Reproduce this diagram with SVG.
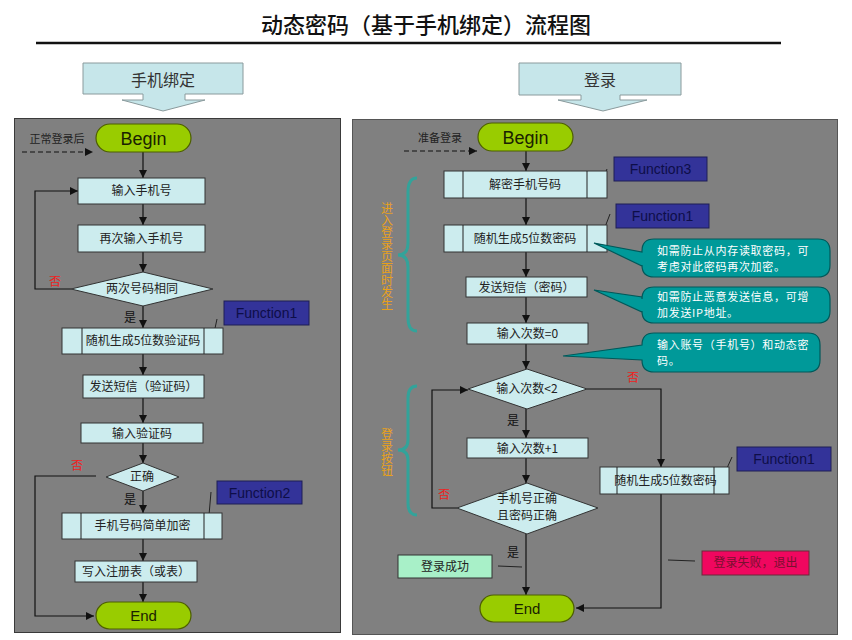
<svg xmlns="http://www.w3.org/2000/svg" width="852" height="640" viewBox="0 0 852 640">
<defs>
<marker id="ah" viewBox="0 0 8 8" refX="8" refY="4" markerWidth="8" markerHeight="8" markerUnits="userSpaceOnUse" orient="auto">
<path d="M0,0 L8,4 L0,8 z" fill="#111"/>
</marker>
<style>
.cjk{font-family:"Noto Sans CJK SC","Liberation Sans",sans-serif}
.lat{font-family:"Liberation Sans","Noto Sans",Arial,sans-serif}
.box{fill:#ccecee;stroke:#333;stroke-width:1}
.t{font-size:12px;fill:#222;text-anchor:middle}
.term{fill:#99cc00;stroke:#4d5e00;stroke-width:1.2}
.termt{font-size:18px;fill:#1a2200;text-anchor:middle}
.fn{fill:#333399;stroke:#1e1e55;stroke-width:1}
.fnt{font-size:14px;fill:#0e0e48;text-anchor:middle}
.dia{fill:#ccecee;stroke:#333;stroke-width:1}
.con{fill:none;stroke:#111;stroke-width:1.2}
.arr{marker-end:url(#ah)}
.dash{stroke-dasharray:5,3}
.thin{fill:none;stroke:#222;stroke-width:1}
.no{font-size:12px;fill:#ee2222}
.yes{font-size:12px;fill:#111}
.call{fill:#009999;stroke:#00595a;stroke-width:1.2}
.callt{font-size:11px;letter-spacing:0.7px;fill:#ffffff}
.brace{fill:none;stroke:#33a39a;stroke-width:3}
.bt{font-size:12px;fill:#e8a01c;text-anchor:middle;writing-mode:vertical-rl}
.hdr{fill:#c6e6ea;stroke:#8a9a9c;stroke-width:1}
.hdrt{font-size:16px;fill:#333;text-anchor:middle}
.note{font-size:11px;fill:#222}
</style>
</defs>
<rect width="852" height="640" fill="#ffffff"/>

<g id="title">
<text x="426" y="33" class="cjk" font-size="22" font-weight="500" fill="#111" text-anchor="middle">动态密码（基于手机绑定）流程图</text>
<line x1="36" y1="43" x2="781" y2="43" stroke="#111" stroke-width="2.5"/>
</g>

<g id="panels">
<rect x="14.5" y="118.5" width="326" height="514" fill="#808080" stroke="#3a3a3a" stroke-width="1"/>
<rect x="352.5" y="119.5" width="485" height="515" fill="#808080" stroke="#555" stroke-width="1"/>
</g>

<g id="header-bind">
<path class="hdr" d="M83,63 H243 V94 H185 V100 H205 L163,111 L122,100 H143 V94 H83 Z"/>
<text x="163" y="86" class="cjk hdrt">手机绑定</text>
</g>
<g id="header-login">
<path class="hdr" d="M519,63 H681 V95 H620 V100 H647 L603,111 L558,100 H581 V95 H519 Z"/>
<text x="600" y="86" class="cjk hdrt">登录</text>
</g>

<g id="connectors">
<line class="con arr dash" x1="22" y1="152" x2="93" y2="152"/>
<line class="con arr" x1="143" y1="152" x2="143" y2="178"/>
<line class="con arr" x1="143" y1="204" x2="143" y2="225"/>
<line class="con arr" x1="143" y1="252" x2="143" y2="272"/>
<polyline class="con arr" points="71,289 35,289 35,191 78,191"/>
<line class="con arr" x1="143" y1="306" x2="143" y2="328"/>
<line class="con arr" x1="143" y1="354" x2="143" y2="375"/>
<line class="con arr" x1="143" y1="398" x2="143" y2="423"/>
<line class="con arr" x1="143" y1="443" x2="143" y2="463"/>
<polyline class="con arr" points="96,476 35,476 35,616 94,616"/>
<line class="con arr" x1="143" y1="491" x2="143" y2="513"/>
<line class="con arr" x1="143" y1="539" x2="143" y2="561"/>
<line class="con arr" x1="143" y1="582" x2="143" y2="602"/>
<line class="thin" x1="211" y1="347" x2="217" y2="319"/>
<line class="thin" x1="208" y1="527" x2="211" y2="492"/>
<line class="con arr dash" x1="404" y1="151" x2="477" y2="151"/>
<line class="con arr" x1="526" y1="151" x2="526" y2="171"/>
<line class="con arr" x1="526" y1="198" x2="526" y2="225"/>
<line class="con arr" x1="526" y1="252" x2="526" y2="277"/>
<line class="con arr" x1="526" y1="297" x2="526" y2="323"/>
<line class="con arr" x1="526" y1="344" x2="526" y2="369"/>
<line class="con arr" x1="526" y1="409" x2="526" y2="438"/>
<line class="con arr" x1="526" y1="458" x2="526" y2="483"/>
<line class="con arr" x1="526" y1="534" x2="526" y2="595"/>
<polyline class="con arr" points="587,389 661,389 661,467"/>
<polyline class="con arr" points="457,508 432,508 432,390 468,390"/>
<polyline class="con arr" points="661,494 661,608 576,608"/>
<line class="thin" x1="498" y1="566" x2="522" y2="567"/>
<line class="thin" x1="668" y1="560" x2="695" y2="561"/>
<line class="thin" x1="598" y1="191" x2="607" y2="169"/>
<line class="thin" x1="602" y1="235" x2="610" y2="214"/>
<line class="thin" x1="723" y1="477" x2="732" y2="457"/>
</g>

<g id="l-pre"><text x="57" y="143" class="cjk note" text-anchor="middle">正常登录后</text></g>
<g id="l-begin"><rect class="term" x="96" y="124" width="95" height="28" rx="14"/><text x="143.5" y="145" class="lat termt">Begin</text></g>
<g id="l-input"><rect class="box" x="78" y="178" width="127" height="26"/><text x="141.5" y="195" class="cjk t">输入手机号</text></g>
<g id="l-input2"><rect class="box" x="78" y="225" width="127" height="27"/><text x="141.5" y="243" class="cjk t">再次输入手机号</text></g>
<g id="l-same"><polygon class="dia" points="143,272 213,289 143,306 71,289"/><text x="142" y="293" class="cjk t">两次号码相同</text>
<text x="55" y="286" class="cjk no" text-anchor="middle">否</text><text x="130" y="322" class="cjk yes" text-anchor="middle">是</text></g>
<g id="l-gen"><rect class="box" x="62" y="328" width="161" height="26"/><line class="thin" x1="82" y1="328" x2="82" y2="354"/><line class="thin" x1="204" y1="328" x2="204" y2="354"/><text x="143" y="345" class="cjk t">随机生成5位数验证码</text></g>
<g id="l-fn1"><rect class="fn" x="224" y="301" width="85" height="24"/><text x="266.5" y="318" class="lat fnt">Function1</text></g>
<g id="l-sms"><rect class="box" x="83" y="375" width="121" height="23"/><text x="143.5" y="391" class="cjk t">发送短信（验证码）</text></g>
<g id="l-code"><rect class="box" x="81" y="423" width="122" height="20"/><text x="142" y="438" class="cjk t">输入验证码</text></g>
<g id="l-ok"><polygon class="dia" points="143,463 179,477 143,491 106,477"/><text x="142" y="481" class="cjk t">正确</text>
<text x="77" y="470" class="cjk no" text-anchor="middle">否</text><text x="130" y="504" class="cjk yes" text-anchor="middle">是</text></g>
<g id="l-enc"><rect class="box" x="62" y="513" width="160" height="26"/><line class="thin" x1="81" y1="513" x2="81" y2="539"/><line class="thin" x1="204" y1="513" x2="204" y2="539"/><text x="142.5" y="530" class="cjk t">手机号码简单加密</text></g>
<g id="l-fn2"><rect class="fn" x="217" y="481" width="85" height="23"/><text x="259.5" y="498" class="lat fnt">Function2</text></g>
<g id="l-write"><rect class="box" x="75" y="561" width="122" height="21"/><text x="136" y="576" class="cjk t">写入注册表（或表）</text></g>
<g id="l-end"><rect class="term" x="96" y="602" width="95" height="27" rx="13.5"/><text x="143.5" y="621" class="lat termt" style="font-size:15px">End</text></g>

<g id="r-pre"><text x="440" y="142" class="cjk note" text-anchor="middle">准备登录</text></g>
<g id="r-begin"><rect class="term" x="478" y="123" width="95" height="28" rx="14"/><text x="525.5" y="144" class="lat termt">Begin</text></g>
<g id="r-decrypt"><rect class="box" x="444" y="171" width="163" height="27"/><line class="thin" x1="463" y1="171" x2="463" y2="198"/><line class="thin" x1="587" y1="171" x2="587" y2="198"/><text x="525" y="189" class="cjk t">解密手机号码</text></g>
<g id="r-fn3"><rect class="fn" x="614" y="157" width="93" height="24"/><text x="660.5" y="174" class="lat fnt">Function3</text></g>
<g id="r-gen"><rect class="box" x="444" y="225" width="163" height="27"/><line class="thin" x1="463" y1="225" x2="463" y2="252"/><line class="thin" x1="587" y1="225" x2="587" y2="252"/><text x="525" y="243" class="cjk t">随机生成5位数密码</text></g>
<g id="r-fn1a"><rect class="fn" x="616" y="204" width="93" height="24"/><text x="662.5" y="221" class="lat fnt">Function1</text></g>
<g id="r-sms"><rect class="box" x="466" y="277" width="121" height="20"/><text x="526.5" y="292" class="cjk t">发送短信（密码）</text></g>
<g id="r-cnt0"><rect class="box" x="467" y="323" width="121" height="21"/><text x="527.5" y="338" class="cjk t">输入次数=0</text></g>
<g id="r-call1"><path class="call" d="M654,239 H818 Q830,239 830,251 V265 Q830,277 818,277 H654 Q642,277 642,265 V266 L594,243 L642,252 V251 Q642,239 654,239 Z"/>
<text class="cjk callt"><tspan x="657" y="255">如需防止从内存读取密码，可</tspan><tspan x="657" y="271">考虑对此密码再次加密。</tspan></text></g>
<g id="r-call2"><path class="call" d="M654,287 H818 Q830,287 830,299 V311 Q830,323 818,323 H654 Q642,323 642,311 V312 L594,290 L642,297 V299 Q642,287 654,287 Z"/>
<text class="cjk callt"><tspan x="657" y="301">如需防止恶意发送信息，可增</tspan><tspan x="657" y="317">加发送IP地址。</tspan></text></g>
<g id="r-call3"><path class="call" d="M654,333 H808 Q820,333 820,345 V360 Q820,372 808,372 H654 Q642,372 642,360 L563,356 L642,345 Q642,333 654,333 Z"/>
<text class="cjk callt"><tspan x="657" y="349">输入账号（手机号）和动态密</tspan><tspan x="657" y="365">码。</tspan></text></g>
<g id="r-lt2"><polygon class="dia" points="527,369 587,389 527,409 468,389"/><text x="527" y="393" class="cjk t">输入次数&lt;2</text>
<text x="633" y="382" class="cjk no" text-anchor="middle">否</text><text x="513" y="425" class="cjk yes" text-anchor="middle">是</text></g>
<g id="r-inc"><rect class="box" x="467" y="438" width="121" height="20"/><text x="527.5" y="453" class="cjk t">输入次数+1</text></g>
<g id="r-check"><polygon class="dia" points="527,483 598,508 527,534 457,508"/><text class="cjk t"><tspan x="527" y="503">手机号正确</tspan><tspan x="527" y="520">且密码正确</tspan></text>
<text x="444" y="499" class="cjk no" text-anchor="middle">否</text><text x="513" y="557" class="cjk yes" text-anchor="middle">是</text></g>
<g id="r-success"><rect x="398" y="555" width="94" height="23" fill="#a8f0c8" stroke="#333" stroke-width="1"/><text x="445" y="571" class="cjk t">登录成功</text></g>
<g id="r-regen"><rect class="box" x="600" y="467" width="129" height="27"/><line class="thin" x1="617" y1="467" x2="617" y2="494"/><line class="thin" x1="714" y1="467" x2="714" y2="494"/><text x="665.5" y="485" class="cjk t">随机生成5位数密码</text></g>
<g id="r-fn1b"><rect class="fn" x="737" y="447" width="94" height="24"/><text x="784" y="464" class="lat fnt">Function1</text></g>
<g id="r-fail"><rect x="702" y="551" width="107" height="24" fill="#f0075f" stroke="#6a2a3a" stroke-width="1"/><text x="755.5" y="567" class="cjk t" style="fill:#7a1030">登录失败，退出</text></g>
<g id="r-end"><rect class="term" x="480" y="595" width="94" height="27" rx="13.5"/><text x="527" y="614" class="lat termt" style="font-size:15px">End</text></g>

<g id="brace-enter">
<path class="brace" d="M417,178 Q408,178 408,192 V243 Q408,255 398,255 Q408,255 408,267 V318 Q408,331 417,331"/>
<text x="387" y="256" class="cjk bt">进入登录页面时发生</text>
</g>
<g id="brace-login">
<path class="brace" d="M417,386 Q408,386 408,398 V440 Q408,450 398,450 Q408,450 408,460 V503 Q408,515 417,515"/>
<text x="387" y="452" class="cjk bt">登录按钮</text>
</g>
</svg>
